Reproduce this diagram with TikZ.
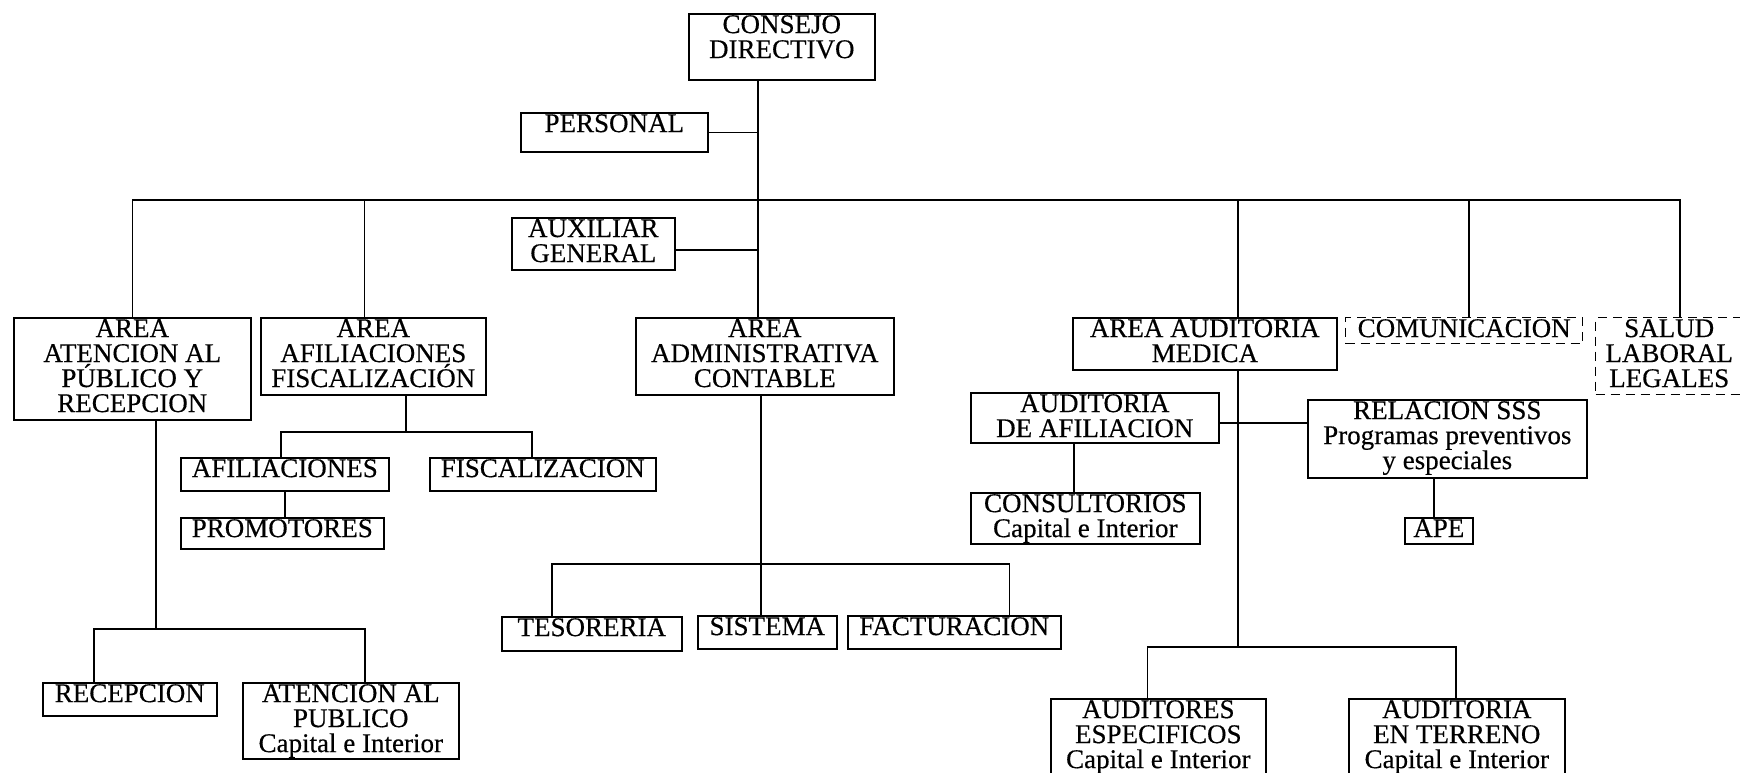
\documentclass[tikz,border=0pt]{standalone}
\usepackage{fontspec}
\setmainfont{Liberation Serif}
\newfontfamily\orgfont{Liberation Serif}[FakeBold=0.4]
\begin{document}
\begin{tikzpicture}[x=1pt,y=-1pt,
    orgbox/.style={draw, line width=1.6pt, anchor=north west, inner sep=0pt},
    extbox/.style={orgbox, line width=1.4pt, dash pattern=on 9pt off 6pt},
    txt/.style={anchor=north, inner sep=0pt, yshift=-2pt, align=center, font=\orgfont\fontsize{27}{25}\selectfont},
    link/.style={line width=1.5pt}]
    \useasboundingbox (0,0) rectangle (1740,773);

    % top level
    \node[orgbox, minimum width=186pt, minimum height=66pt, label={[txt]north:{CONSEJO\\DIRECTIVO}}] (consejo) at (688,13) {};
    \node[orgbox, minimum width=187pt, minimum height=39pt, label={[txt]north:{PERSONAL}}] (personal) at (520,112) {};
    \node[orgbox, minimum width=163pt, minimum height=52pt, label={[txt]north:{AUXILIAR\\GENERAL}}] (auxiliar) at (511,217) {};

    % areas
    \node[orgbox, minimum width=237pt, minimum height=102pt, label={[txt]north:{AREA\\ATENCION AL\\PÚBLICO Y\\RECEPCION}}] (atencion) at (13,317) {};
    \node[orgbox, minimum width=225pt, minimum height=77pt, label={[txt]north:{AREA\\AFILIACIONES\\FISCALIZACIÓN}}] (afilarea) at (260,317) {};
    \node[orgbox, minimum width=258pt, minimum height=77pt, label={[txt]north:{AREA\\ADMINISTRATIVA\\CONTABLE}}] (admin) at (635,317) {};
    \node[orgbox, minimum width=264pt, minimum height=52pt, label={[txt]north:{AREA AUDITORIA\\MEDICA}}] (medica) at (1072,317) {};
    \node[extbox, minimum width=237pt, minimum height=26pt, label={[txt]north:{COMUNICACION}}] (comunic) at (1345,317) {};
    \node[extbox, minimum width=147pt, minimum height=77pt, label={[txt]north:{SALUD\\LABORAL\\LEGALES}}] (salud) at (1595,317) {};

    % sections
    \node[orgbox, minimum width=208pt, minimum height=33pt, label={[txt]north:{AFILIACIONES}}] (afil) at (180,457) {};
    \node[orgbox, minimum width=226pt, minimum height=33pt, label={[txt]north:{FISCALIZACION}}] (fiscal) at (429,457) {};
    \node[orgbox, minimum width=203pt, minimum height=31pt, label={[txt]north:{PROMOTORES}}] (promot) at (180,517) {};
    \node[orgbox, minimum width=174pt, minimum height=33pt, label={[txt]north:{RECEPCION}}] (recep) at (42,682) {};
    \node[orgbox, minimum width=216pt, minimum height=76pt, label={[txt]north:{ATENCION AL\\PUBLICO\\Capital e Interior}}] (atpub) at (242,682) {};
    \node[orgbox, minimum width=180pt, minimum height=34pt, label={[txt]north:{TESORERIA}}] (tesor) at (501,616) {};
    \node[orgbox, minimum width=139pt, minimum height=33pt, label={[txt]north:{SISTEMA}}] (sistema) at (697,615) {};
    \node[orgbox, minimum width=213pt, minimum height=33pt, label={[txt]north:{FACTURACION}}] (factura) at (847,615) {};
    \node[orgbox, minimum width=248pt, minimum height=50pt, label={[txt]north:{AUDITORIA\\DE AFILIACION}}] (audafil) at (970,392) {};
    \node[orgbox, minimum width=279pt, minimum height=78pt, label={[txt]north:{RELACION SSS\\Programas preventivos\\y especiales}}] (relacion) at (1307,399) {};
    \node[orgbox, minimum width=229pt, minimum height=51pt, label={[txt]north:{CONSULTORIOS\\Capital e Interior}}] (consult) at (970,492) {};
    \node[orgbox, minimum width=68pt, minimum height=26pt, label={[txt]north:{APE}}] (ape) at (1404,517) {};
    \node[orgbox, minimum width=215pt, minimum height=78pt, label={[txt]north:{AUDITORES\\ESPECIFICOS\\Capital e Interior}}] (auditores) at (1050,698) {};
    \node[orgbox, minimum width=216pt, minimum height=78pt, label={[txt]north:{AUDITORIA\\EN TERRENO\\Capital e Interior}}] (terreno) at (1348,698) {};

    % junctions
    \coordinate (spine) at (758,200);
    \coordinate (medline) at (1238,647);
    \coordinate (atjoin) at (156,629);
    \coordinate (afjoin) at (406,432);
    \coordinate (adjoin) at (761,564);

    % connectors
    \draw[link] (consejo.south -| spine) -- (admin.north -| spine);
    \draw[link] (personal.east) -- (personal.east -| spine);
    \draw[link] ([yshift=-6pt]auxiliar.east) -- ([yshift=-6pt]auxiliar.east -| spine);
    \draw[link] (atencion.north) |- ([xshift=11pt]salud.north |- spine) -- ([xshift=11pt]salud.north);
    \draw[link] ([xshift=-9pt]afilarea.north) -- ([xshift=-9pt]afilarea.north |- spine);
    \draw[link] (medline |- spine) -- (medline |- medica.north);
    \draw[link] ([xshift=5pt]comunic.north) -- ([xshift=5pt]comunic.north |- spine);

    \draw[link] (atencion.south -| atjoin) -- (atjoin);
    \draw[link] ([xshift=-36pt]recep.north) |- ([xshift=14pt]atpub.north |- atjoin) -- ([xshift=14pt]atpub.north);

    \draw[link] (afilarea.south -| afjoin) -- (afjoin);
    \draw[link] ([xshift=-4pt]afil.north) |- ([xshift=-11pt]fiscal.north |- afjoin) -- ([xshift=-11pt]fiscal.north);
    \draw[link] (afil.south) -- (afil.south |- promot.north);

    \draw[link] (admin.south -| adjoin) -- (sistema.north -| adjoin);
    \draw[link] ([xshift=-40pt]tesor.north) |- ([xshift=55pt]factura.north |- adjoin) -- ([xshift=55pt]factura.north);

    \draw[link] (medica.south -| medline) -- (medline);
    \draw[link] ([yshift=-5pt]audafil.east) -- ([yshift=-5pt]audafil.east -| relacion.west);
    \draw[link] ([xshift=-21pt]audafil.south) -- ([xshift=-21pt]audafil.south |- consult.north);
    \draw[link] ([xshift=-5pt]ape.north) -- ([xshift=-5pt]ape.north |- relacion.south);
    \draw[link] ([xshift=-11pt]auditores.north) |- ([xshift=-1pt]terreno.north |- medline) -- ([xshift=-1pt]terreno.north);
\end{tikzpicture}
\end{document}
